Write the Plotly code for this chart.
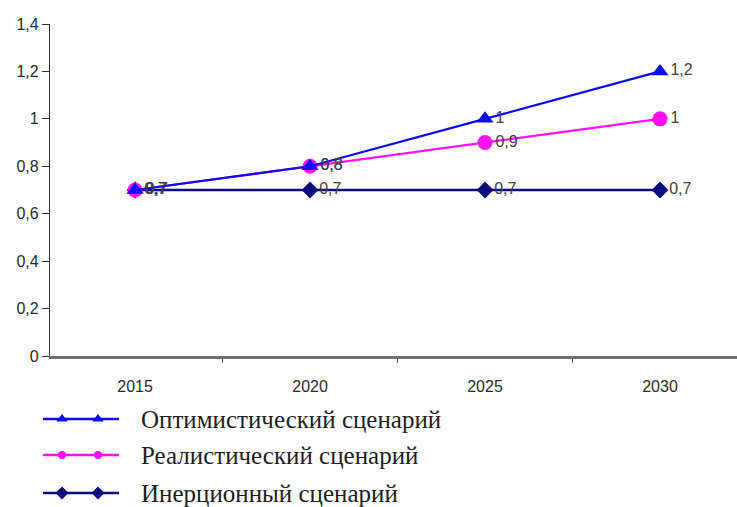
import plotly.graph_objects as go

# Scenario data
years = ["2015", "2020", "2025", "2030"]
optimistic = [0.7, 0.8, 1.0, 1.2]
realistic = [0.7, 0.8, 0.9, 1.0]
inertial = [0.7, 0.7, 0.7, 0.7]

names = ["Оптимистический сценарий", "Реалистический сценарий", "Инерционный сценарий"]
colors = ["#0a0af5", "#ff10f0", "#0c0c7c"]
symbols = ["triangle-up", "circle", "diamond"]
y_ticks = [0, 0.2, 0.4, 0.6, 0.8, 1.0, 1.2, 1.4]


def fmt(v):
    return f"{v:g}".replace(".", ",")


series = [optimistic, realistic, inertial]
marker_sizes = [15, 15, 13]
line_widths = [2.2, 2.2, 2.6]

W, H = 737, 507
ML, MT = 50, 24
AXIS_BOTTOM = 356          # pixel row of the x axis
plot_h = H - MT            # plot area runs down to the page bottom
main_lo = (H - AXIS_BOTTOM) / plot_h

fig = go.Figure()

# drawn bottom-up so the optimistic line sits on top
for i in [2, 1, 0]:
    fig.add_trace(go.Scatter(
        x=years, y=series[i], name=names[i], mode="lines+markers+text",
        line=dict(color=colors[i], width=line_widths[i]),
        marker=dict(symbol=symbols[i], size=marker_sizes[i], color=colors[i]),
        text=[fmt(v) for v in series[i]], textposition="middle right",
        textfont=dict(family="Liberation Sans", size=16, color="#404040"),
        showlegend=False, cliponaxis=False,
    ))

# legend key in pixel units of the strip below the chart (x from left, y from bottom)
leg_y = [H - 419, H - 455, H - 493]
leg_line = (43, 119)
leg_marks = [62, 98]
leg_text_x = 139
legend_marker_sizes = [10, 8, 10]
for i in range(3):
    fig.add_shape(type="line", xref="x2", yref="y2",
                  x0=leg_line[0], x1=leg_line[1], y0=leg_y[i], y1=leg_y[i],
                  line=dict(color=colors[i], width=2.4))
    fig.add_trace(go.Scatter(
        x=leg_marks, y=[leg_y[i]] * 2, xaxis="x2", yaxis="y2",
        mode="markers", cliponaxis=False, showlegend=False, hoverinfo="skip",
        marker=dict(symbol=symbols[i], size=legend_marker_sizes[i], color=colors[i]),
    ))
    fig.add_annotation(xref="x2", yref="y2", x=leg_text_x, y=leg_y[i],
                       xanchor="left", yanchor="middle", showarrow=False,
                       text=names[i],
                       font=dict(family="Liberation Serif", size=25, color="#1e1e1e"))

fig.update_layout(
    width=W, height=H,
    margin=dict(l=0, r=0, t=MT, b=0, autoexpand=False),
    paper_bgcolor="white", plot_bgcolor="white",
    separators=", ",
    showlegend=False,
    xaxis=dict(
        domain=[ML / W, 1], anchor="y", automargin=False,
        type="category", range=[-0.486, 3.44], tickson="boundaries",
        ticks="outside", ticklen=4, tickcolor="#555", tickwidth=1,
        showline=True, linecolor="#6e6e6e", linewidth=2.5,
        showgrid=False, zeroline=False, ticklabelstandoff=14,
        tickfont=dict(family="Liberation Sans", size=16, color="#2a2a2a"),
    ),
    yaxis=dict(
        domain=[main_lo, 1], anchor="x", automargin=False,
        range=[0, 1.4], tickvals=y_ticks, ticktext=[fmt(v) for v in y_ticks],
        ticks="outside", ticklen=7, tickcolor="#333", tickwidth=1,
        showline=True, linecolor="#333", linewidth=1.3,
        showgrid=False, zeroline=False,
        tickfont=dict(family="Liberation Sans", size=16, color="#2a2a2a"),
    ),
    xaxis2=dict(domain=[0, 1], anchor="y2", range=[0, W], visible=False,
                automargin=False),
    yaxis2=dict(domain=[0, main_lo], anchor="x2", range=[0, H - AXIS_BOTTOM],
                visible=False, automargin=False),
)

fig.write_html("out.html")
